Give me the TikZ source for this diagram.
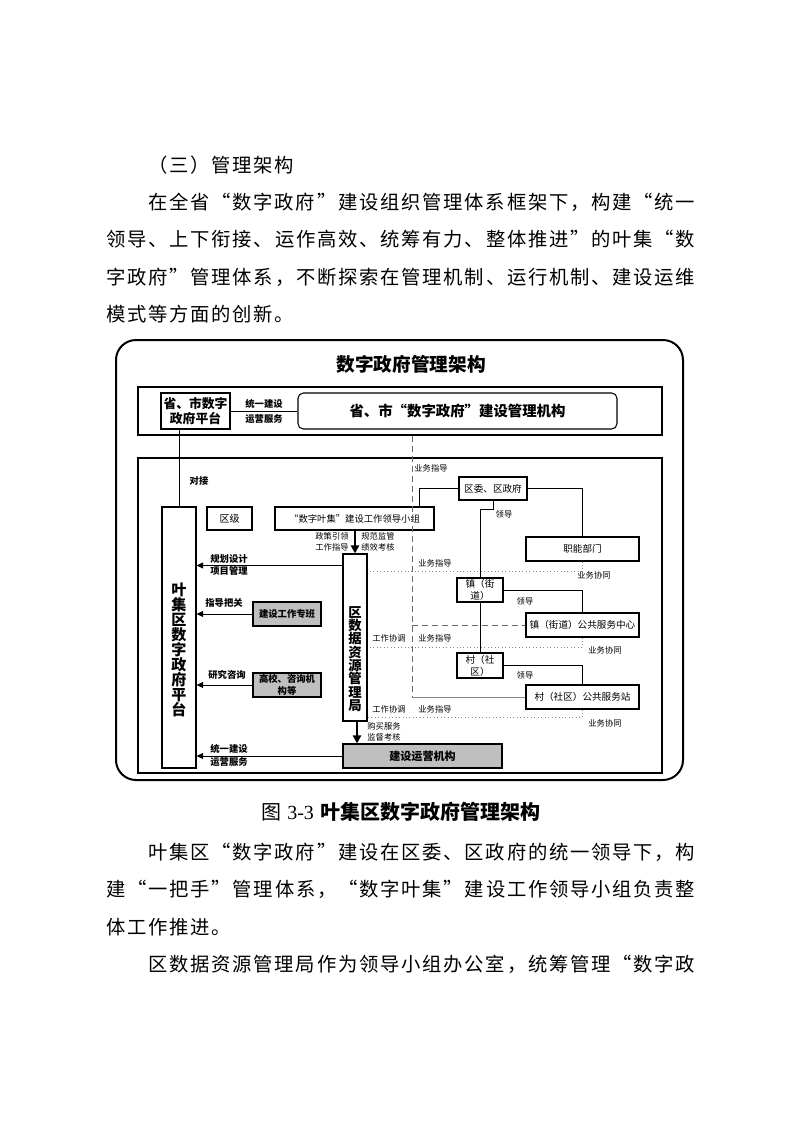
\documentclass[tikz,border=0pt]{standalone}
\usepackage{fontspec}
\setmainfont{Noto Sans CJK SC}
\newfontfamily\latinserif{Liberation Serif}
\usetikzlibrary{arrows.meta,calc}
\definecolor{boxgray}{RGB}{191,191,191}
\definecolor{guidegray}{RGB}{105,105,105}
\definecolor{dotgray}{RGB}{135,135,135}
\newdimen\chargap
\chargap=1.28pt
\makeatletter
\newcommand\spreadchars[1]{#1\spread@next}
\def\spread@next#1{\ifx\relax#1\else\hskip\chargap plus 1fil minus\chargap\relax #1\expandafter\spread@next\fi}
\makeatother
\newcommand\fullline[1]{\makebox[441.75pt][s]{\spreadchars#1\relax}}
\newcommand\indentline[1]{\makebox[410.2pt][s]{\spreadchars#1\relax}}
\newcommand\shortline[1]{\spreadchars#1\relax}

\begin{document}
\begin{tikzpicture}[x=0.75pt, y=-0.75pt,
  every node/.style={inner sep=0pt, align=center},
  wh/.style 2 args={minimum width=#1*0.75pt, minimum height=#2*0.75pt},
  box/.style={draw, line width=0.8pt, font=\fontsize{7.2pt}{9pt}\selectfont},
  graybox/.style={box, fill=boxgray, font=\bfseries\fontsize{7pt}{9pt}\selectfont},
  framebox/.style={draw, line width=1.1pt},
  lbl/.style={font=\fontsize{6.2pt}{8.2pt}\selectfont},
  lblbold/.style={font=\bfseries\fontsize{7pt}{9.5pt}\selectfont},
  link/.style={line width=0.75pt},
  arr/.style={link, -{Triangle[length=5pt,width=4.5pt]}},
  bigarr/.style={line width=1.6pt, -{Triangle[length=6pt,width=6pt]}},
  guide/.style={draw=guidegray, line width=0.75pt, dash pattern=on 4.5pt off 3pt},
  dots/.style={draw=dotgray, line width=0.6pt, dotted},
  vtext/.style={font=\bfseries\fontsize{11.3pt}{11.3pt}\selectfont},
  bodytext/.style={anchor=west, font=\fontsize{14.5pt}{14.5pt}\selectfont, text height=0.88em, text depth=0.12em}]

\fill[white] (0,0) rectangle (793,1122);
\useasboundingbox (0,0) rectangle (793,1122);

% text above the figure
\node[bodytext] (heading) at (148,167) {\shortline{（三）管理架构}};
\node[bodytext] (topA) at (148,204) {\indentline{在全省“数字政府”建设组织管理体系框架下，构建“统一}};
\node[bodytext] (topB) at (106,241.5) {\fullline{领导、上下衔接、运作高效、统筹有力、整体推进”的叶集“数}};
\node[bodytext] (topC) at (106,279) {\fullline{字政府”管理体系，不断探索在管理机制、运行机制、建设运维}};
\node[bodytext] (topD) at (106,316) {\shortline{模式等方面的创新。}};

% frames
\node[framebox, wh={567}{440}, rounded corners=15pt, line width=1.5pt] (outer) at (399.5,560) {};
\node[font=\bfseries\fontsize{14pt}{14pt}\selectfont] (title) at (411,364) {数字政府管理架构};
\node[framebox, wh={524}{48}] (band) at (400,411) {};
\node[framebox, wh={524}{315}] (frame) at (400,615.5) {};

% province level
\node[box, wh={69}{36}, font=\bfseries\fontsize{9.6pt}{11.5pt}\selectfont] (prov) at (195.5,411) {省、市数字\\政府平台};
\node[box, wh={319}{36}, rounded corners=4pt, font=\bfseries\fontsize{10.8pt}{12pt}\selectfont] (provorg) at (457.5,411) {省、市“数字政府”建设管理机构};
\draw[link] (prov) -- (provorg);
\node[lblbold] (provlink) at (264,411.5) {统一建设\\[1.5pt]运营服务};

% district platform
\node[box, wh={34}{261}] (platform) at (179,637.5) {};
\node[vtext] (platformname) at (179,650) {叶\\集\\区\\数\\字\\政\\府\\平\\台};
\draw[link] (platform.north |- prov.south) -- (platform.north);
\node[lblbold] (dock) at (199,481) {对接};

% district organs
\node[box, wh={45}{23}, font=\fontsize{7.5pt}{9pt}\selectfont] (district) at (229.5,518.5) {区级};
\node[box, wh={159}{23}, font=\fontsize{7pt}{9pt}\selectfont] (group) at (354.5,518.5) {“数字叶集”建设工作领导小组};
\node[box, wh={68}{23}] (party) at (493,488.5) {区委、区政府};
\node[box, wh={113}{24}] (func) at (582.5,549) {职能部门};
\node[box, wh={46}{24}] (town) at (480,590) {镇（街\\道）};
\node[box, wh={113}{24}] (towncenter) at (582.5,625) {镇（街道）公共服务中心};
\node[box, wh={46}{25}] (village) at (480,665.5) {村（社\\区）};
\node[box, wh={113}{24}] (station) at (582.5,697) {村（社区）公共服务站};
\node[box, wh={24}{167}] (bureau) at (355,637.5) {};
\node[font=\bfseries\fontsize{10pt}{10pt}\selectfont] (bureauname) at (355,659) {区\\数\\据\\资\\源\\管\\理\\局};
\node[graybox, wh={68}{24}] (taskforce) at (287,614) {建设工作专班};
\node[graybox, wh={68}{24}] (college) at (287,685) {高校、咨询机\\构等};
\node[graybox, wh={159}{24}, font=\bfseries\fontsize{8.3pt}{10pt}\selectfont] (ops) at (422.5,756) {建设运营机构};

% leadership lines
\draw[link] (party.west) -| ($(group.north east)+(-15,0)$);
\draw[link] (party.east) -| (func.north);
\draw[link] (party.south) -- ++(0,9) -| (town.north);
\node[lbl] (leadA) at (504,514) {领导};
\draw[link] (town.east) -| (towncenter.north);
\node[lbl] (leadB) at (525,601) {领导};
\draw[link] (town) -- (village);
\draw[link] (village.east) -| (station.north);
\node[lbl] (leadC) at (525,675) {领导};

% bureau
\draw[bigarr] (bureau.north |- group.south) -- (bureau.north);
\node[lbl] (policy) at (332,541.5) {政策引领\\工作指导};
\node[lbl] (supervise) at (378,541.5) {规范监管\\绩效考核};
\draw[bigarr] ($(bureau.south)+(2,0)$) -- ($(bureau.south |- ops.north)+(2,0)$);
\node[lbl] (purchase) at (384,732) {购买服务\\监督考核};

% arrows into the platform
\draw[arr] ($(bureau.north west)+(0,12)$) coordinate (planfrom) -- (planfrom -| platform.east);
\node[lblbold] (planning) at (229,565) {规划设计\\项目管理};
\draw[arr] (taskforce.west) -- (taskforce.west -| platform.east);
\node[lblbold] (checking) at (224,603) {指导把关};
\draw[arr] (college.west) -- (college.west -| platform.east);
\node[lblbold] (research) at (227,675) {研究咨询};
\draw[arr] (ops.west) -- (ops.west -| platform.east);
\node[lblbold] (opslink) at (229,755.5) {统一建设\\运营服务};

% business guidance
\coordinate (guideend) at (412,697);
\draw[guide] (band.south -| guideend) -- (guideend);
\draw[draw=dotgray, line width=0.6pt] (guideend) -- (station.west);
\draw[guide] (towncenter.west -| guideend) -- (towncenter.west);
\node[lbl] (guideA) at (431,468) {业务指导};
\node[lbl] (guideB) at (435,563) {业务指导};
\node[lbl] (guideC) at (435,638) {业务指导};
\node[lbl] (guideD) at (435,709) {业务指导};
\node[lbl] (coordA) at (389,638) {工作协调};
\node[lbl] (coordB) at (389,709) {工作协调};

% business coordination
\draw[dots] (func.south) -- ++(0,10) coordinate (coopA) -- (coopA -| bureau.east);
\draw[dots] (towncenter.south) -- ++(0,10) coordinate (coopB) -- (coopB -| bureau.east);
\draw[dots] (station.south) -- ++(0,8) coordinate (coopC) -- (coopC -| bureau.east);
\node[lbl] (coopAlabel) at (594,575) {业务协同};
\node[lbl] (coopBlabel) at (605,650) {业务协同};
\node[lbl] (coopClabel) at (605,723) {业务协同};

% caption and text below
\node[font=\fontsize{15pt}{15pt}\selectfont] (caption) at (401,812) {图\hspace{4.5pt}{\latinserif 3-3}\hspace{5pt}{\bfseries 叶集区数字政府管理架构}};
\node[bodytext] (lowA) at (148,854) {\indentline{叶集区“数字政府”建设在区委、区政府的统一领导下，构}};
\node[bodytext] (lowB) at (106,891.5) {\fullline{建“一把手”管理体系，“数字叶集”建设工作领导小组负责整}};
\node[bodytext] (lowC) at (106,929) {\shortline{体工作推进。}};
\node[bodytext] (lowD) at (148,966) {\indentline{区数据资源管理局作为领导小组办公室，统筹管理“数字政}};
\end{tikzpicture}
\end{document}
